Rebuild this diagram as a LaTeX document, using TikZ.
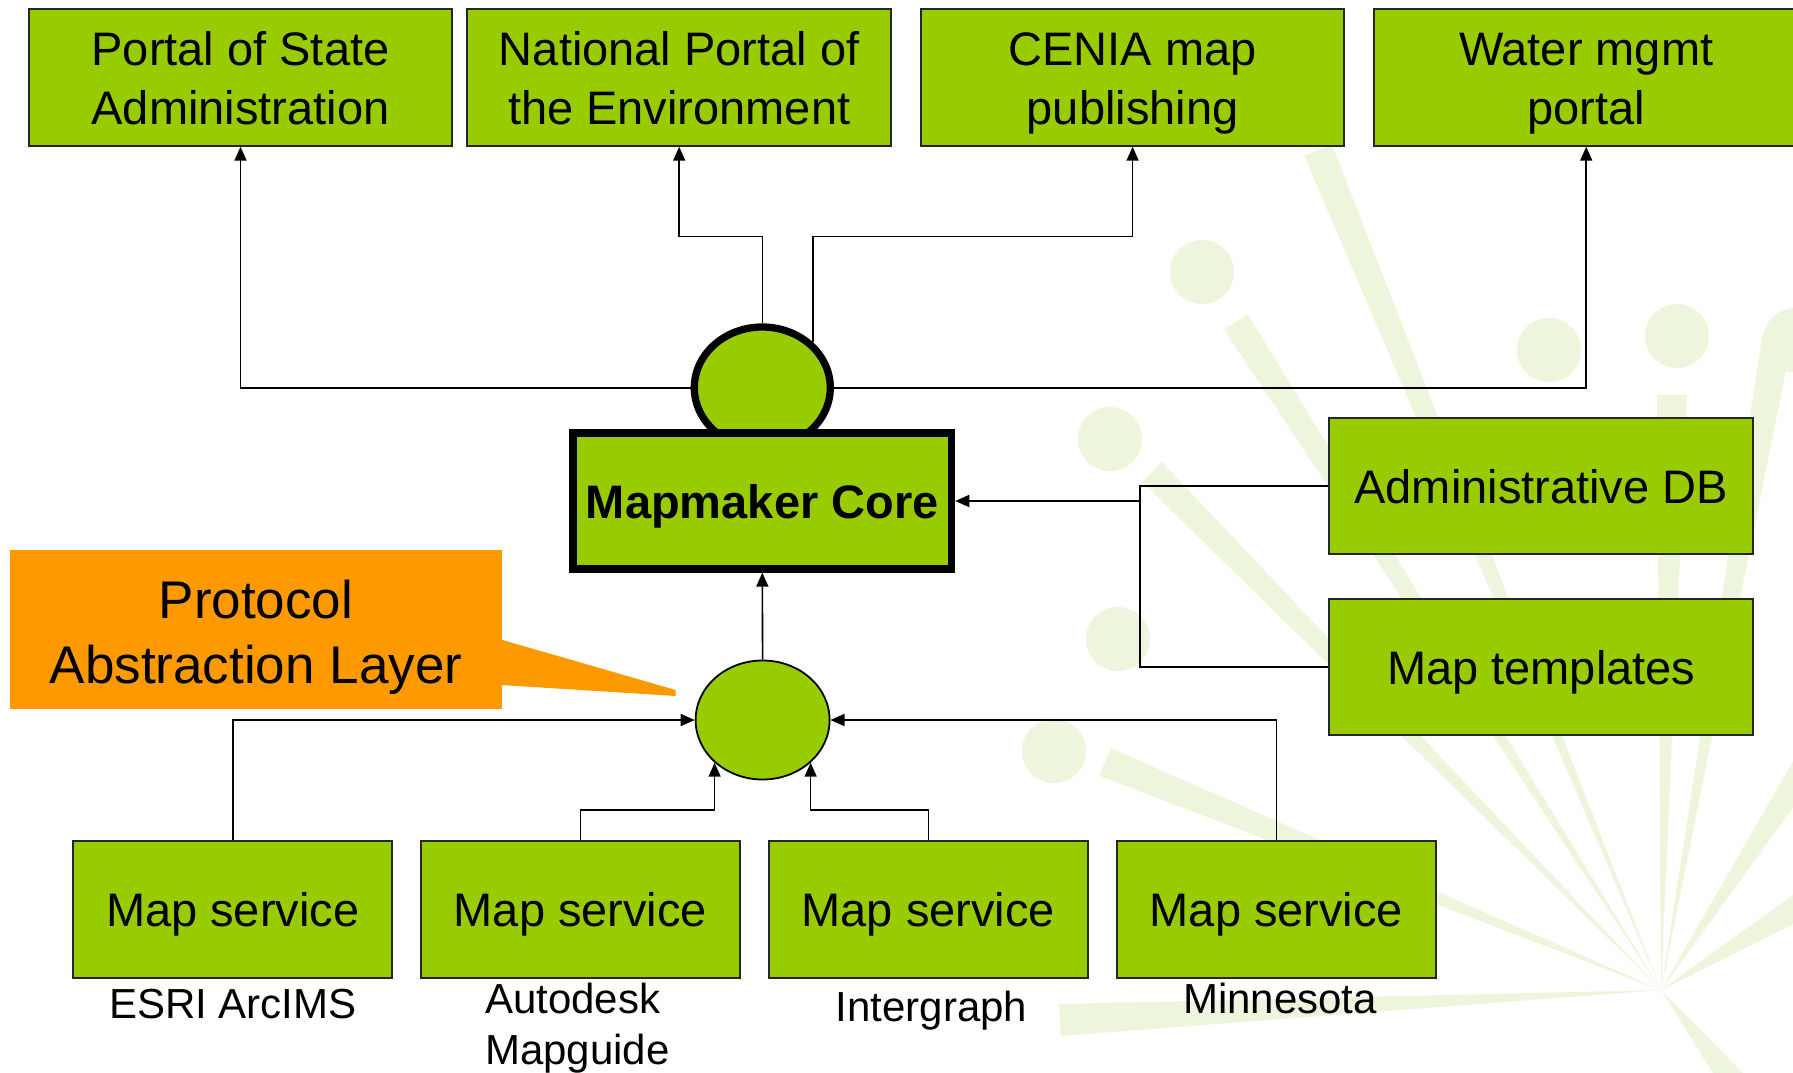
\documentclass[tikz,border=0pt]{standalone}
\usepackage{fontspec}
\setmainfont{Liberation Sans}
\usetikzlibrary{shapes.geometric,arrows.meta,calc}
\definecolor{boxgreen}{RGB}{153,204,0}
\definecolor{callorange}{RGB}{255,153,0}
\definecolor{bgpale}{RGB}{237,245,221}
\newcommand{\bxs}{\rule[-12pt]{0pt}{58pt}}
\newcommand{\pls}{\rule[-9pt]{0pt}{63pt}}
\newcommand{\lbs}{\rule[-10pt]{0pt}{50pt}}
\newcommand{\wedgeray}[2]{\fill[bgpale] ($(#1)!#2!90:(sc)$) -- ($(#1)!#2!-90:(sc)$) -- (sc) -- cycle;}
\begin{document}
\begin{tikzpicture}[x=1pt,y=-1pt,
  arr/.style={line width=1.6pt,-{Triangle[length=14pt,width=12pt]}},
  conn/.style={line width=1.6pt},
  gbox/.style={draw=black!85,line width=2pt,fill=boxgreen,inner sep=0pt,align=center,
    font=\fontsize{47}{59}\selectfont},
  topbox/.style={gbox,minimum width=423.7pt,minimum height=136.4pt},
  sidebox/.style={gbox,minimum width=423.6pt,minimum height=136pt},
  svcbox/.style={gbox,minimum width=318.5pt,minimum height=137pt},
  lbl/.style={inner sep=0pt,font=\fontsize{42}{50.5}\selectfont},
  dot/.style={fill=bgpale}]
\clip (0,0) rectangle (1793,1072);
\useasboundingbox (0,0) rectangle (1793,1072);
% background decoration (pale starburst)
\coordinate (sc) at (1661,990);
\wedgeray{1318,150}{15pt}
\wedgeray{1236,322}{14pt}
\wedgeray{1152,472}{14pt}
\wedgeray{1105,762}{15pt}
\wedgeray{1060,1020}{16pt}
\wedgeray{1672,395}{15pt}
\wedgeray{1777,339}{15pt}
\wedgeray{1810,760}{14pt}
\wedgeray{1810,900}{14pt}
\wedgeray{1740,1090}{14pt}
\fill[dot] (1202,272) circle (32pt);
\fill[dot] (1549,350) circle (32pt);
\fill[dot] (1677,336) circle (32pt);
\fill[dot] (1110,439) circle (32pt);
\fill[dot] (1118,639) circle (32pt);
\fill[dot] (1054,751) circle (32pt);
\fill[dot] (1795,340) circle (32pt);
% top boxes
\node[topbox] (b1) at (240.5,77.5) {\bxs Portal of State\\\bxs Administration};
\node[topbox] (b2) at (679.2,77.5) {\bxs National Portal of\\\bxs the Environment};
\node[topbox] (b3) at (1132.6,77.5) {\bxs CENIA map\\\bxs publishing};
\node[topbox] (b4) at (1586.2,77.5) {\bxs Water mgmt\\\bxs portal};
% side boxes
\node[sidebox] (adb) at (1541.2,486) {\bxs Administrative DB};
\node[sidebox] (mt) at (1541.2,667.2) {\bxs Map templates};
% service boxes
\node[svcbox] (s1) at (232.7,909.5) {\bxs Map service};
\node[svcbox] (s2) at (580.4,909.5) {\bxs Map service};
\node[svcbox] (s3) at (928.3,909.5) {\bxs Map service};
\node[svcbox] (s4) at (1276.4,909.5) {\bxs Map service};
% labels
\node[lbl,anchor=base] (l1) at (232.7,1018) {ESRI ArcIMS};
\node[lbl,anchor=north west,align=left] (l2) at (485,973.5) {\lbs Autodesk\\\lbs Mapguide};
\node[lbl,anchor=base] (l3) at (931.5,1021) {Intergraph};
\node[lbl,anchor=base] (l4) at (1280,1013) {Minnesota};
% top ellipse and core
\node[ellipse,draw=black,line width=7.3pt,fill=boxgreen,inner sep=0pt,
  minimum width=136pt,minimum height=121.4pt] (te) at (762.3,387.7) {};
\node[draw=black,line width=7.3pt,fill=boxgreen,inner sep=0pt,
  minimum width=378.6pt,minimum height=136pt,
  font=\bfseries\fontsize{47}{59}\selectfont] (core) at (762.3,501) {\bxs Mapmaker Core};
% bottom ellipse
\node[ellipse,draw=black,line width=1.8pt,fill=boxgreen,inner sep=0pt,
  minimum width=134pt,minimum height=119pt] (be) at (762.6,720) {};
% callout
\node[fill=callorange,inner sep=0pt,minimum width=492.5pt,minimum height=159pt,
  align=center,font=\fontsize{53}{64.3}\selectfont] (pal) at (256,629.5)
  {\pls Protocol\\\pls Abstraction Layer};
\fill[callorange] ([xshift=-1pt]pal.east |- 0,639.7) -- (675.7,690) -- (675.7,696)
  -- ([xshift=-1pt]pal.east |- 0,685) -- cycle;
% connectors top
\coordinate (ylev) at (0,236.3);
\draw[arr] (te.west) -| (b1.south);
\draw[arr] (te.east) -| (b4.south);
\draw[arr] (te.north) -- (te.north |- ylev) -| (b2.south);
\draw[arr] (te.north east) -- (te.north east |- ylev) -| (b3.south);
% side connectors
\coordinate (jr) at (1139.7,501);
\draw[conn] (adb.west) -| (jr);
\draw[conn] (mt.west) -| (jr);
\draw[arr] (jr) -- (core.east);
% bottom connectors
\draw[arr] (be.north) -- (core.south);
\draw[arr] (s1.north) |- (be.west);
\draw[arr] (s4.north) |- (be.east);
\draw[arr] (s2.north) -- ++(0,-30) -| (be.south west);
\draw[arr] (s3.north) -- ++(0,-30) -| (be.south east);
\end{tikzpicture}
\end{document}
